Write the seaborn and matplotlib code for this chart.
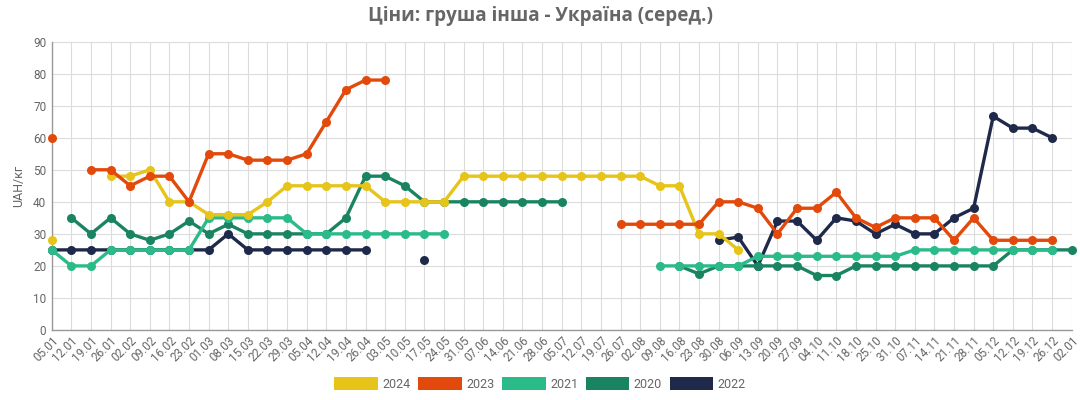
import numpy as np
import pandas as pd
import matplotlib
matplotlib.use("Agg")
import matplotlib.pyplot as plt
from matplotlib.patches import Patch
import seaborn as sns

nan = np.nan

dates = ["05.01", "12.01", "19.01", "26.01", "02.02", "09.02", "16.02", "23.02", "01.03", "08.03",
         "15.03", "22.03", "29.03", "05.04", "12.04", "19.04", "26.04", "03.05", "10.05", "17.05",
         "24.05", "31.05", "07.06", "14.06", "21.06", "28.06", "05.07", "12.07", "19.07", "26.07",
         "02.08", "09.08", "16.08", "23.08", "30.08", "06.09", "13.09", "20.09", "27.09", "04.10",
         "11.10", "18.10", "25.10", "31.10", "07.11", "14.11", "21.11", "28.11", "05.12", "12.12",
         "19.12", "26.12", "02.01"]

y2024 = [28, nan, nan, 48, 48, 50, 40, 40, 36, 36,
         36, 40, 45, 45, 45, 45, 45, 40, 40, 40,
         40, 48, 48, 48, 48, 48, 48, 48, 48, 48,
         48, 45, 45, 30, 30, 25, nan, nan, nan, nan,
         nan, nan, nan, nan, nan, nan, nan, nan, nan, nan,
         nan, nan, nan]

y2023 = [60, nan, 50, 50, 45, 48, 48, 40, 55, 55,
         53, 53, 53, 55, 65, 75, 78, 78, nan, nan,
         nan, nan, nan, nan, nan, nan, nan, nan, nan, 33,
         33, 33, 33, 33, 40, 40, 38, 30, 38, 38,
         43, 35, 32, 35, 35, 35, 28, 35, 28, 28,
         28, 28, nan]

y2021 = [25, 20, 20, 25, 25, 25, 25, 25, 35, 35,
         35, 35, 35, 30, 30, 30, 30, 30, 30, 30,
         30, nan, nan, nan, nan, nan, nan, nan, nan, nan,
         nan, 20, 20, 20, 20, 20, 23, 23, 23, 23,
         23, 23, 23, 23, 25, 25, 25, 25, 25, 25,
         25, 25, nan]

y2020 = [nan, 35, 30, 35, 30, 28, 30, 34, 30, 33,
         30, 30, 30, 30, 30, 35, 48, 48, 45, 40,
         40, 40, 40, 40, 40, 40, 40, nan, nan, nan,
         nan, nan, 20, 17.5, 20, 20, 20, 20, 20, 17,
         17, 20, 20, 20, 20, 20, 20, 20, 20, 25,
         25, 25, 25]

y2022 = [25, 25, 25, 25, 25, 25, 25, 25, 25, 30,
         25, 25, 25, 25, 25, 25, 25, nan, nan, 22,
         nan, nan, nan, nan, nan, nan, nan, nan, nan, nan,
         nan, nan, nan, nan, 28, 29, 20, 34, 34, 28,
         35, 34, 30, 33, 30, 30, 35, 38, 66.7, 63,
         63, 60, nan]

series = [("2024", y2024, "#E6C419", 5),
          ("2023", y2023, "#E2490B", 6),
          ("2021", y2021, "#2ABB89", 4),
          ("2020", y2020, "#1A8462", 3),
          ("2022", y2022, "#1F2A4B", 2)]

sns.set_theme(style="white")
plt.rcParams["font.family"] = ["Roboto", "DejaVu Sans"]

fig = plt.figure(figsize=(10.8, 4.0), dpi=100)
ax = fig.add_axes([0.0479, 0.175, 0.9444, 0.721])

x = np.arange(len(dates))
for name, vals, color, z in series:
    v = np.array(vals, dtype=float)
    valid = ~np.isnan(v)
    seg = np.cumsum(np.concatenate([[1], (valid[1:] & ~valid[:-1]).astype(int)]))
    df = pd.DataFrame({"x": x, "y": v, "seg": seg})[valid]
    sns.lineplot(data=df, x="x", y="y", units="seg", estimator=None, color=color,
                 marker="o", markersize=6.5, markeredgewidth=0, linewidth=2.4,
                 ax=ax, zorder=z, legend=False, clip_on=False)

ax.set_xlim(0, len(dates) - 1)
ax.set_ylim(0, 90)
ax.set_yticks(np.arange(0, 91, 10))
ax.set_xticks(x)
ax.set_xticklabels(dates, rotation=45, ha="right", rotation_mode="anchor")
ax.tick_params(axis="both", colors="#666666", labelsize=8.5, length=0, pad=4)
ax.tick_params(axis="x", pad=3)
ax.grid(True, color="#dcdcdc", linewidth=0.8)
ax.set_axisbelow(True)
for s in ["top", "right"]:
    ax.spines[s].set_visible(False)
for s in ["left", "bottom"]:
    ax.spines[s].set_color("#999999")
    ax.spines[s].set_linewidth(1.0)
ax.set_xlabel("")
ax.set_ylabel("UAH/кг", color="#666666", fontsize=9, labelpad=6)

fig.suptitle("Ціни: груша інша - Україна (серед.)", x=0.5, y=0.985, fontsize=13.6,
             fontweight="bold", color="#666666", family=["Open Sans", "DejaVu Sans"])

handles = [Patch(facecolor=c, edgecolor="none", label=n) for n, _, c, _ in series]
fig.legend(handles=handles, loc="center", bbox_to_anchor=(0.5, 0.041), ncol=5,
           frameon=False, fontsize=9, handlelength=3.5, handleheight=1.3,
           handletextpad=0.35, columnspacing=0.6, labelcolor="#666666")

fig.savefig("out.png", dpi=100)
